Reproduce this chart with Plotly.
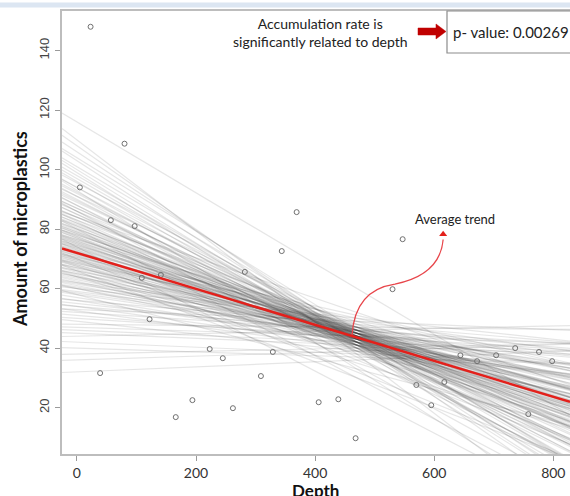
import plotly.graph_objects as go

# observed points
depth = [23, 5, 80, 57, 97, 39, 109, 141, 122, 166, 194, 223, 245, 262, 282, 309, 329, 344, 369,
         547, 530, 406, 439, 468, 570, 617, 595, 644, 672, 704, 736, 758, 776, 798]
amount = [148, 94, 108.7, 83, 81, 31.6, 63.6, 64.6, 49.7, 16.8, 22.5, 39.7, 36.6, 19.8, 65.6, 30.6, 38.7,
          72.6, 85.7, 76.6, 59.8, 21.8, 22.8, 9.7, 27.6, 28.6, 20.8, 37.6, 35.6, 37.6, 40, 17.8, 38.7, 35.6]

# posterior regression lines (intercept at depth 0, slope)
draw_intercepts = [32, 38, 42, 44, 45, 47, 48, 49, 51, 52,
                   53, 54, 55, 56, 57, 58, 58, 59, 60, 60.5,
                   61, 62, 62.5, 63, 64, 64.5, 65, 66, 66, 66.5,
                   67, 67.5, 68, 68.5, 69, 69.5, 70, 70.5, 71, 71.5,
                   72, 72.5, 73, 73.5, 74, 74, 74.5, 75, 75.5, 76,
                   76.5, 77, 77.5, 78, 78.5, 79, 80, 80.5, 81, 82,
                   82.5, 83, 84, 85, 86, 87, 88, 89, 90, 91,
                   92, 93, 94, 95.5, 97, 99, 101, 103, 106, 110,
                   116,
                   56, 58.5, 60, 61.5, 62, 63.5, 64, 65, 65.5, 66,
                   67, 67.5, 68, 68.5, 69, 69.5, 70, 70.5, 71, 71.5,
                   72, 72.5, 73, 73.5, 74, 74.5, 75, 75.5, 76, 76.5,
                   77, 77.5, 78, 78.5, 79, 79.5, 80, 81, 81.5, 82,
                   83, 84, 85, 86, 87, 88, 89.5, 91, 92.5, 94,
                   96, 98, 100, 104, 108, 50, 52.5, 54, 46, 40,
                   36, 64, 70, 80, 86, 60, 72, 84]
draw_slopes = [0.0085, 0.0043, -0.0085, 0.0043, -0.0085, -0.0064, -0.0021, -0.0213, -0.0170, -0.0128,
               -0.0085, -0.0277, -0.0213, -0.0170, -0.0319, -0.0298, -0.0532, -0.0255, -0.0426, -0.0330,
               -0.0383, -0.0277, -0.0457, -0.0404, -0.0383, -0.0543, -0.0468, -0.0404, -0.0766, -0.0521,
               -0.0468, -0.0628, -0.0511, -0.0436, -0.0596, -0.0521, -0.0574, -0.0436, -0.0574, -0.0670,
               -0.0553, -0.0628, -0.0787, -0.0606, -0.0681, -0.1043, -0.0585, -0.0660, -0.0734, -0.0660,
               -0.0585, -0.0723, -0.0819, -0.0681, -0.0734, -0.0787, -0.0702, -0.0862, -0.0766, -0.0830,
               -0.0968, -0.0745, -0.0851, -0.0936, -0.0851, -0.0936, -0.1043, -0.0936, -0.1021, -0.0936,
               -0.1021, -0.1277, -0.1128, -0.1053, -0.1149, -0.1255, -0.1191, -0.1298, -0.1319, -0.1532,
               -0.1190,
               -0.0298, -0.0287, -0.0362, -0.0330, -0.0426, -0.0394, -0.0447, -0.0383, -0.0521, -0.0468,
               -0.0447, -0.0521, -0.0574, -0.0500, -0.0468, -0.0585, -0.0532, -0.0564, -0.0617, -0.0543,
               -0.0596, -0.0670, -0.0596, -0.0649, -0.0596, -0.0649, -0.0702, -0.0628, -0.0702, -0.0670,
               -0.0766, -0.0713, -0.0660, -0.0777, -0.0723, -0.0777, -0.0766, -0.0830, -0.0755, -0.0809,
               -0.0894, -0.0830, -0.0894, -0.0979, -0.0894, -0.0979, -0.0968, -0.1085, -0.1053, -0.1043,
               -0.1170, -0.1149, -0.1234, -0.1234, -0.1404, -0.0128, -0.0266, -0.0170, -0.0085, -0.0064,
               0.0064, -0.0617, -0.0809, -0.1064, -0.1106, -0.0213, -0.0447, -0.0681]

mean_intercept = 72
mean_slope = -0.0605

x_range = [-25, 828]
y_range = [4.4, 153.3]
x_ticks = [0, 200, 400, 600, 800]
y_ticks = [20, 40, 60, 80, 100, 120, 140]

fig = go.Figure()

for a, b in zip(draw_intercepts, draw_slopes):
    fig.add_trace(go.Scatter(
        x=x_range, y=[a + b * x_range[0], a + b * x_range[1]],
        mode="lines", line=dict(color="rgba(50,50,50,0.12)", width=1.2),
        hoverinfo="skip", showlegend=False))

fig.add_trace(go.Scatter(
    x=depth, y=amount, mode="markers",
    marker=dict(symbol="circle-open", size=5, color="#707070", line=dict(width=1)),
    showlegend=False))

fig.add_trace(go.Scatter(
    x=x_range, y=[mean_intercept + mean_slope * x_range[0], mean_intercept + mean_slope * x_range[1]],
    mode="lines", line=dict(color="#e3201b", width=2.5), showlegend=False))

# pixel -> paper helpers (plot area: x 62..570, y 11..454)
L, T, W, H = 62, 11, 508, 443
def px(xp):
    return (xp - L) / W
def py(yp):
    return (T + H - yp) / H

shapes = []
# light blue band at the top of the page
shapes.append(dict(type="rect", xref="paper", yref="paper", x0=px(0), x1=px(570), y0=py(7.5), y1=py(2.5),
                   fillcolor="#dce6f2", line=dict(width=0), layer="above"))
# p-value box
shapes.append(dict(type="rect", xref="paper", yref="paper", x0=px(447), x1=px(580), y0=py(53), y1=py(11),
                   fillcolor="white", line=dict(color="#8c8c8c", width=1.2), layer="above"))
# block arrow
pts = [(418, 28), (436, 28), (436, 24), (446, 31.5), (436, 39), (436, 35), (418, 35)]
path = "M " + " L ".join(f"{px(a):.4f},{py(b):.4f}" for a, b in pts) + " Z"
shapes.append(dict(type="path", xref="paper", yref="paper", path=path,
                   fillcolor="#c00000", line=dict(color="#c00000", width=0.5), layer="above"))
# curved arrow to average trend (data coordinates)
shapes.append(dict(type="path", xref="x", yref="y",
                   path="M 462,44.4 Q 467,59.5 534,61.5 Q 610,64.6 615,76.5",
                   line=dict(color="#e8454a", width=1.3)))
fig.update_layout(shapes=shapes)

fig.add_trace(go.Scatter(x=[615], y=[78.3], mode="markers",
                         marker=dict(symbol="triangle-up", size=7, color="#e3201b"),
                         showlegend=False, hoverinfo="skip"))

annotations = [
    dict(text="Accumulation rate is<br>significantly related to depth", xref="paper", yref="paper",
         x=px(320), y=py(32.5), showarrow=False, font=dict(family="Lato", size=14, color="#222"),
         xanchor="center", yanchor="middle", align="center"),
    dict(text="p- value: 0.00269", xref="paper", yref="paper", x=px(511), y=py(32),
         showarrow=False, font=dict(family="Lato", size=15, color="#222"), xanchor="center", yanchor="middle"),
    dict(text="Average trend", xref="paper", yref="paper", x=px(455), y=py(219),
         showarrow=False, font=dict(family="Lato", size=13, color="#222"), xanchor="center", yanchor="middle"),
    dict(text="<b>Amount of microplastics</b>", xref="paper", yref="paper", x=px(20), y=py(229),
         textangle=-90, showarrow=False, font=dict(family="Lato", size=18, color="#111"),
         xanchor="center", yanchor="middle"),
    dict(text="<b>Depth</b>", xref="paper", yref="paper", x=px(315), y=py(479),
         showarrow=False, font=dict(family="Lato", size=17, color="#111"), xanchor="center", yanchor="top",
         borderpad=0),
]
fig.update_layout(annotations=annotations)

fig.update_layout(
    width=570, height=496,
    margin=dict(l=62, r=0, t=11, b=42),
    plot_bgcolor="white", paper_bgcolor="white",
    xaxis=dict(range=x_range, tickvals=x_ticks, showgrid=False, zeroline=False,
               showline=True, linecolor="#bdbdbd", linewidth=2, mirror=True,
               ticks="outside", ticklen=5, tickcolor="#9a9a9a", tickwidth=1,
               tickfont=dict(family="Lato", size=14, color="#333")),
    yaxis=dict(range=y_range, tickvals=y_ticks, showgrid=False, zeroline=False,
               showline=True, linecolor="#bdbdbd", linewidth=2,
               ticks="outside", ticklen=5, tickcolor="#9a9a9a", tickwidth=1, tickangle=-90,
               ticklabelstandoff=1,
               tickfont=dict(family="Liberation Sans", size=13, color="#444")),
)

fig.write_html("out.html", config={"displayModeBar": False},
               post_script="document.body.style.margin='0px';document.body.style.overflow='hidden';")
